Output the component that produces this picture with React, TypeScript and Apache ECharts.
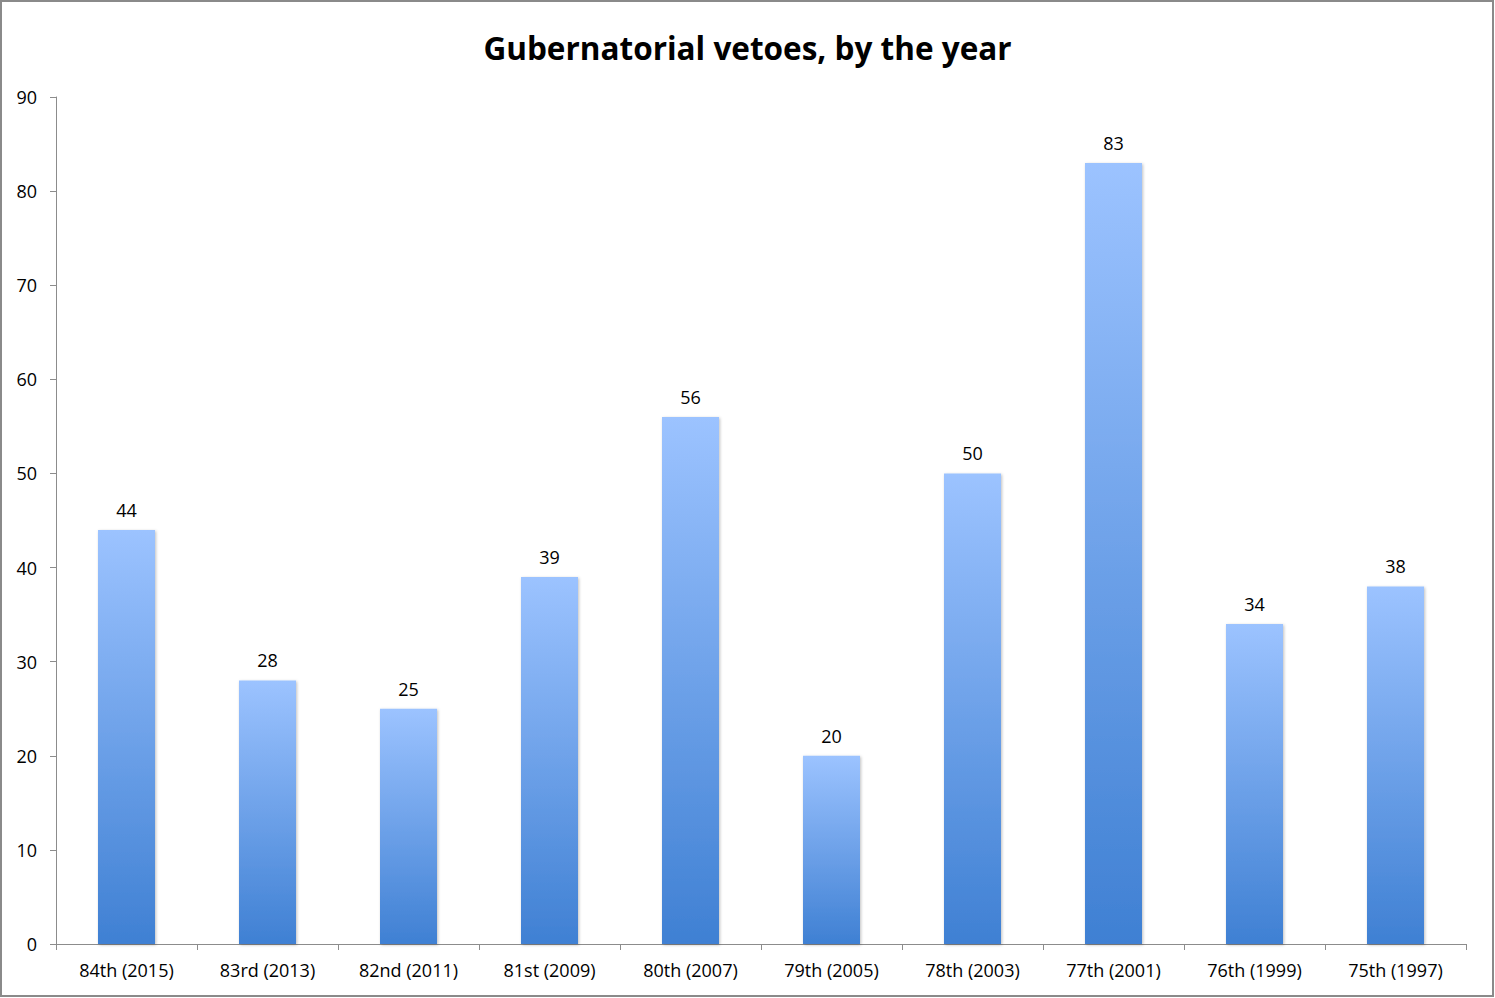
import React, { useEffect, useRef } from "react";
import * as echarts from "echarts";

const categories = [
  "84th (2015)",
  "83rd (2013)",
  "82nd (2011)",
  "81st (2009)",
  "80th (2007)",
  "79th (2005)",
  "78th (2003)",
  "77th (2001)",
  "76th (1999)",
  "75th (1997)",
];
const vetoes = [44, 28, 25, 39, 56, 20, 50, 83, 34, 38];
const yTicks = { min: 0, max: 90, interval: 10 };
const titleText = "Gubernatorial vetoes, by the year";

export default function App() {
  const ref = useRef<HTMLDivElement>(null);
  useEffect(() => {
    document.body.style.margin = "0";
    const chart = echarts.init(ref.current!, null, { renderer: "svg" });
    const font = "'Open Sans', Lato, sans-serif";
    chart.setOption({
      animation: false,
      backgroundColor: "#ffffff",
      title: {
        text: titleText,
        left: "center",
        top: 26,
        textStyle: {
          fontFamily: font,
          fontWeight: "bold",
          fontSize: 31.5,
          color: "#000",
        },
      },
      grid: { left: 56, right: 29, top: 97, bottom: 54, containLabel: false },
      xAxis: {
        type: "category",
        data: categories,
        axisLine: { lineStyle: { color: "#8c8c8c", width: 1 } },
        axisTick: { show: true, length: 6, alignWithLabel: false, lineStyle: { color: "#8c8c8c" } },
        axisLabel: { fontFamily: font, fontSize: 18, color: "#000", margin: 17, interval: 0 },
        splitLine: { show: false },
      },
      yAxis: {
        type: "value",
        min: yTicks.min,
        max: yTicks.max,
        interval: yTicks.interval,
        axisLine: { show: true, lineStyle: { color: "#8c8c8c", width: 1 } },
        axisTick: { show: true, length: 6, lineStyle: { color: "#8c8c8c" } },
        axisLabel: { fontFamily: font, fontSize: 18, color: "#000", margin: 19 },
        splitLine: { show: false },
      },
      series: [
        {
          type: "bar",
          data: vetoes,
          barWidth: 57,
          itemStyle: {
            color: new echarts.graphic.LinearGradient(0, 0, 0, 1, [
              { offset: 0, color: "#9cc3ff" },
              { offset: 1, color: "#3f80d3" },
            ]),
            shadowColor: "rgba(0,0,0,0.25)",
            shadowBlur: 3,
            shadowOffsetX: 1,
            shadowOffsetY: 1,
          },
          label: {
            show: true,
            position: "top",
            distance: 11,
            fontFamily: font,
            fontSize: 18,
            color: "#000",
          },
        },
      ],
      graphic: [
        {
          type: "rect",
          shape: { x: 1, y: 1, width: 1492, height: 995 },
          style: { fill: "none", stroke: "#8a8a8a", lineWidth: 2 },
          silent: true,
        },
      ],
    });
    return () => chart.dispose();
  }, []);
  return <div ref={ref} style={{ width: 1495, height: 998 }} />;
}
